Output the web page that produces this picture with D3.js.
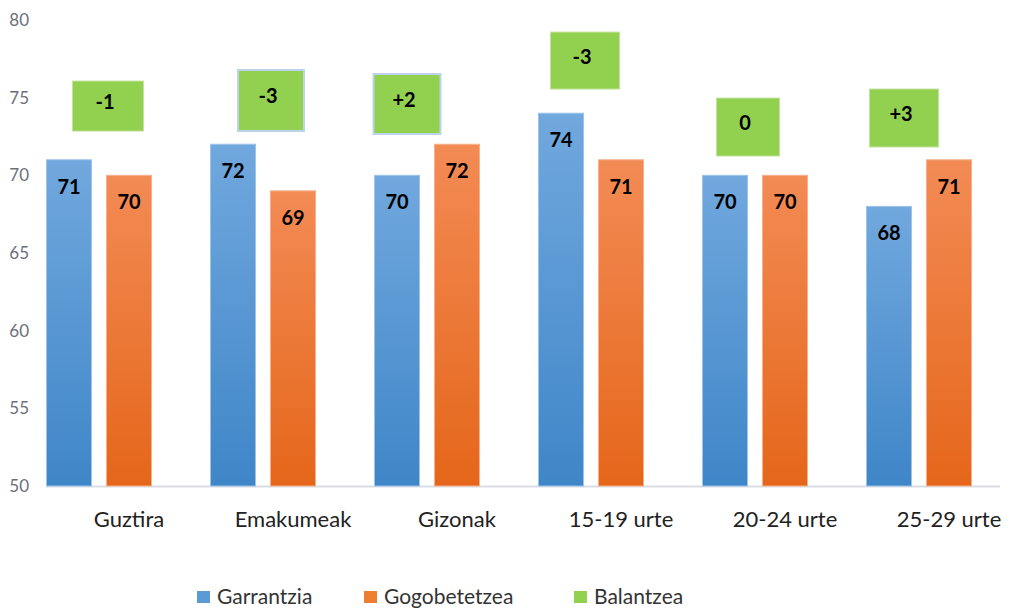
<!DOCTYPE html>
<html>
<head>
<meta charset="utf-8">
<script src="https://cdn.jsdelivr.net/npm/d3@7"></script>
<style>
  body { margin: 0; background: #fff; }
  svg { display: block; font-family: Lato, "Open Sans", sans-serif; }
</style>
</head>
<body>
<div id="chart"></div>
<script>
// data
var categories = ["Guztira", "Emakumeak", "Gizonak", "15-19 urte", "20-24 urte", "25-29 urte"];
var series = ["Garrantzia", "Gogobetetzea", "Balantzea"];
var garrantzia = [71, 72, 70, 74, 70, 68];
var gogobetetzea = [70, 69, 72, 71, 70, 71];
var balantzea = ["-1", "-3", "+2", "-3", "0", "+3"];
var yTicks = [50, 55, 60, 65, 70, 75, 80];

// layout of the hand-placed balance boxes (dx in px from group centre, level on y scale)
var boxLayout = [
  {dx: 9,   level: 74.46, w: 71, h: 50, edge: false},
  {dx: 8,   level: 74.82, w: 66, h: 61, edge: true},
  {dx: -20, level: 74.59, w: 67, h: 60, edge: true},
  {dx: -6,  level: 77.39, w: 69, h: 57, edge: false},
  {dx: -7,  level: 73.11, w: 63, h: 58, edge: false},
  {dx: -15, level: 73.69, w: 69, h: 58, edge: false}
];

var W = 1014, H = 610;
var colors = {Garrantzia: "#5b9bd5", Gogobetetzea: "#ed7d31", Balantzea: "#92d050"};

var svg = d3.select("#chart").append("svg")
    .attr("width", W).attr("height", H);

var defs = svg.append("defs");
function grad(id, top, bottom) {
    var g = defs.append("linearGradient").attr("id", id)
        .attr("x1", 0).attr("y1", 0).attr("x2", 0).attr("y2", 1);
    g.append("stop").attr("offset", "0%").attr("stop-color", top);
    g.append("stop").attr("offset", "100%").attr("stop-color", bottom);
}
grad("gBlue", "#71a8de", "#3f86c8");
grad("gOrange", "#f38b55", "#e5661a");

var x0 = d3.scaleBand().domain(categories).range([17, 1001]);
var x1 = d3.scaleBand().domain(series.slice(0, 2))
    .range([29.5, x0.bandwidth() - 29.5]).paddingInner(0.25);
var y = d3.scaleLinear().domain([50, 80]).range([486, 20]);

// y tick labels
svg.append("g").selectAll("text")
    .data(yTicks).enter().append("text")
    .attr("x", 29).attr("y", function(d) { return y(d); })
    .attr("dy", "0.35em")
    .attr("text-anchor", "end")
    .attr("fill", "#6b6f7a")
    .style("font-size", "17px")
    .text(function(d) { return d; });

// baseline
svg.append("line")
    .attr("x1", 46).attr("x2", 1000)
    .attr("y1", y(50) + 0.5).attr("y2", y(50) + 0.5)
    .attr("stroke", "#d9dde4").attr("stroke-width", 2);

// bars
var rows = categories.map(function(c, i) {
    return {cat: c, vals: [
        {s: "Garrantzia", v: garrantzia[i], fill: "url(#gBlue)", edge: "#9cc3e8"},
        {s: "Gogobetetzea", v: gogobetetzea[i], fill: "url(#gOrange)", edge: "#f6b08a"}
    ]};
});

var groups = svg.append("g").selectAll("g")
    .data(rows).enter().append("g")
    .attr("transform", function(d) { return "translate(" + x0(d.cat) + ",0)"; });

groups.selectAll("rect")
    .data(function(d) { return d.vals; }).enter().append("rect")
    .attr("x", function(d) { return x1(d.s); })
    .attr("y", function(d) { return y(d.v); })
    .attr("width", x1.bandwidth())
    .attr("height", function(d) { return y(50) - y(d.v); })
    .attr("fill", function(d) { return d.fill; })
    .attr("stroke", function(d) { return d.edge; })
    .attr("stroke-width", 1);

groups.selectAll("text.val")
    .data(function(d) { return d.vals; }).enter().append("text")
    .attr("class", "val")
    .attr("x", function(d) { return x1(d.s) + x1.bandwidth() / 2; })
    .attr("y", function(d) { return y(d.v) + 27; })
    .attr("dy", "0.35em")
    .attr("text-anchor", "middle")
    .attr("fill", "#000")
    .style("font-size", "20px").style("font-weight", "bold")
    .text(function(d) { return d.v; });

// balance boxes
var boxes = svg.append("g").selectAll("g")
    .data(categories).enter().append("g")
    .attr("transform", function(d, i) {
        var cx = x0(d) + x0.bandwidth() / 2 + boxLayout[i].dx;
        return "translate(" + cx + "," + y(boxLayout[i].level) + ")";
    });
boxes.append("rect")
    .attr("x", function(d, i) { return -boxLayout[i].w / 2; })
    .attr("y", function(d, i) { return -boxLayout[i].h / 2; })
    .attr("width", function(d, i) { return boxLayout[i].w; })
    .attr("height", function(d, i) { return boxLayout[i].h; })
    .attr("fill", colors.Balantzea)
    .attr("stroke", function(d, i) { return boxLayout[i].edge ? "#bcd3ec" : "#c4e3a0"; })
    .attr("stroke-width", function(d, i) { return boxLayout[i].edge ? 2 : 1; });
boxes.append("text")
    .attr("x", -3).attr("y", -4)
    .attr("dy", "0.35em")
    .attr("text-anchor", "middle")
    .attr("fill", "#000")
    .style("font-size", "20px").style("font-weight", "bold")
    .text(function(d, i) { return balantzea[i]; });

// category labels
svg.append("g").selectAll("text")
    .data(categories).enter().append("text")
    .attr("x", function(d) { return x0(d) + x0.bandwidth() / 2 + 30; })
    .attr("y", 519)
    .attr("dy", "0.35em")
    .attr("text-anchor", "middle")
    .attr("fill", "#222")
    .style("font-size", "22px")
    .text(function(d) { return d; });

// legend
var legendX = [197, 364, 574];
var legend = svg.append("g").selectAll("g")
    .data(series).enter().append("g")
    .attr("transform", function(d, i) { return "translate(" + legendX[i] + ",591)"; });
legend.append("rect")
    .attr("width", 13).attr("height", 12)
    .attr("fill", function(d) { return colors[d]; });
legend.append("text")
    .attr("x", 20).attr("y", 6)
    .attr("dy", "0.35em")
    .attr("fill", "#333")
    .style("font-size", "21px")
    .text(function(d) { return d; });
</script>
</body>
</html>
